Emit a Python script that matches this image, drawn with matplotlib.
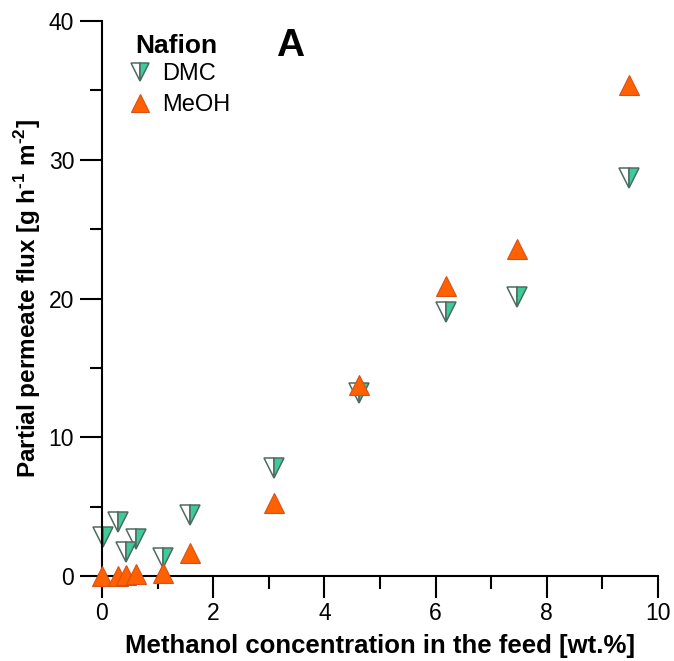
import matplotlib
matplotlib.use("Agg")
import matplotlib.pyplot as plt
from matplotlib.lines import Line2D

plt.rcParams['font.family'] = ['Liberation Sans', 'DejaVu Sans']
plt.rcParams['mathtext.fontset'] = 'custom'
plt.rcParams['mathtext.rm'] = 'Liberation Sans'
plt.rcParams['mathtext.bf'] = 'Liberation Sans:bold'

# Data
dmc_x = [0.01, 0.28, 0.44, 0.61, 1.09, 1.58, 3.10, 4.62, 6.19, 7.46, 9.48]
dmc_y = [2.83, 3.9, 1.75, 2.7, 1.27, 4.4, 7.76, 13.2, 19.05, 20.1, 28.66]
meoh_x = [0.0, 0.28, 0.44, 0.62, 1.09, 1.58, 3.10, 4.62, 6.19, 7.46, 9.48]
meoh_y = [0.0, 0.0, 0.1, 0.15, 0.2, 1.65, 5.24, 13.8, 20.9, 23.6, 35.4]

x_ticks = [0, 2, 4, 6, 8, 10]
y_ticks = [0, 10, 20, 30, 40]

teal = '#3ecb9a'
dmc_edge = '#4e6b61'
orange = '#ff6000'
orange_edge = '#d9501a'

fig = plt.figure(figsize=(6.74, 6.61), dpi=100)
ax = fig.add_axes([102/674, 1-576/661, 556/674, 555/661])

ms = 14.5
ax.plot(meoh_x, meoh_y, linestyle='none', marker='^', ms=ms, mfc=orange,
        mec=orange_edge, mew=0.8, clip_on=False, zorder=3, label='MeOH')
ax.plot(dmc_x, dmc_y, linestyle='none', marker='v', ms=ms, fillstyle='left',
        mfc='white', markerfacecoloralt=teal, mec=dmc_edge, mew=1.1,
        clip_on=False, zorder=2, label='DMC')

ax.set_xlim(0, 10)
ax.set_ylim(0, 40)
ax.set_xticks(x_ticks)
ax.set_yticks(y_ticks)
ax.set_xticks([1, 3, 5, 7, 9], minor=True)
ax.set_yticks([5, 15, 25, 35], minor=True)

for s in ['top', 'right']:
    ax.spines[s].set_visible(False)
for s in ['left', 'bottom']:
    ax.spines[s].set_linewidth(1.5)
ax.tick_params(which='major', direction='out', length=16, width=1.5,
               labelsize=16.5, pad=3)
ax.tick_params(which='minor', direction='out', length=9, width=1.5)
ax.tick_params(axis='y', which='major', pad=4)

ax.set_xlabel('Methanol concentration in the feed [wt.%]', fontsize=18.5,
              fontweight='bold', labelpad=6)
ax.set_ylabel('Partial permeate flux [g h$^{\\mathbf{\u2010 1}}$ m$^{\\mathbf{\u2010 2}}$]',
              fontsize=17.5, fontweight='bold', labelpad=4)

ax.text(0.338, 0.955, 'A', transform=ax.transAxes, fontsize=28,
        fontweight='bold', ha='center', va='center')

# legend title
ax.text(0.0594, 0.9423, 'Nafion', transform=ax.transAxes, fontsize=19,
        fontweight='bold', ha='left', va='baseline')

handles = [
    Line2D([], [], linestyle='none', marker='v', ms=12.5, fillstyle='left',
           mfc='white', markerfacecoloralt=teal, mec=dmc_edge, mew=1.1),
    Line2D([], [], linestyle='none', marker='^', ms=12.5, mfc=orange,
           mec=orange_edge, mew=0.8),
]
leg = ax.legend(handles, ['DMC', 'MeOH'], loc='upper left',
                bbox_to_anchor=(0.0468, 0.9243), frameon=False, fontsize=17,
                handletextpad=0.45, labelspacing=0.38,
                handlelength=1.0, borderpad=0.0, borderaxespad=0.0)

fig.savefig('out.png', dpi=100)
